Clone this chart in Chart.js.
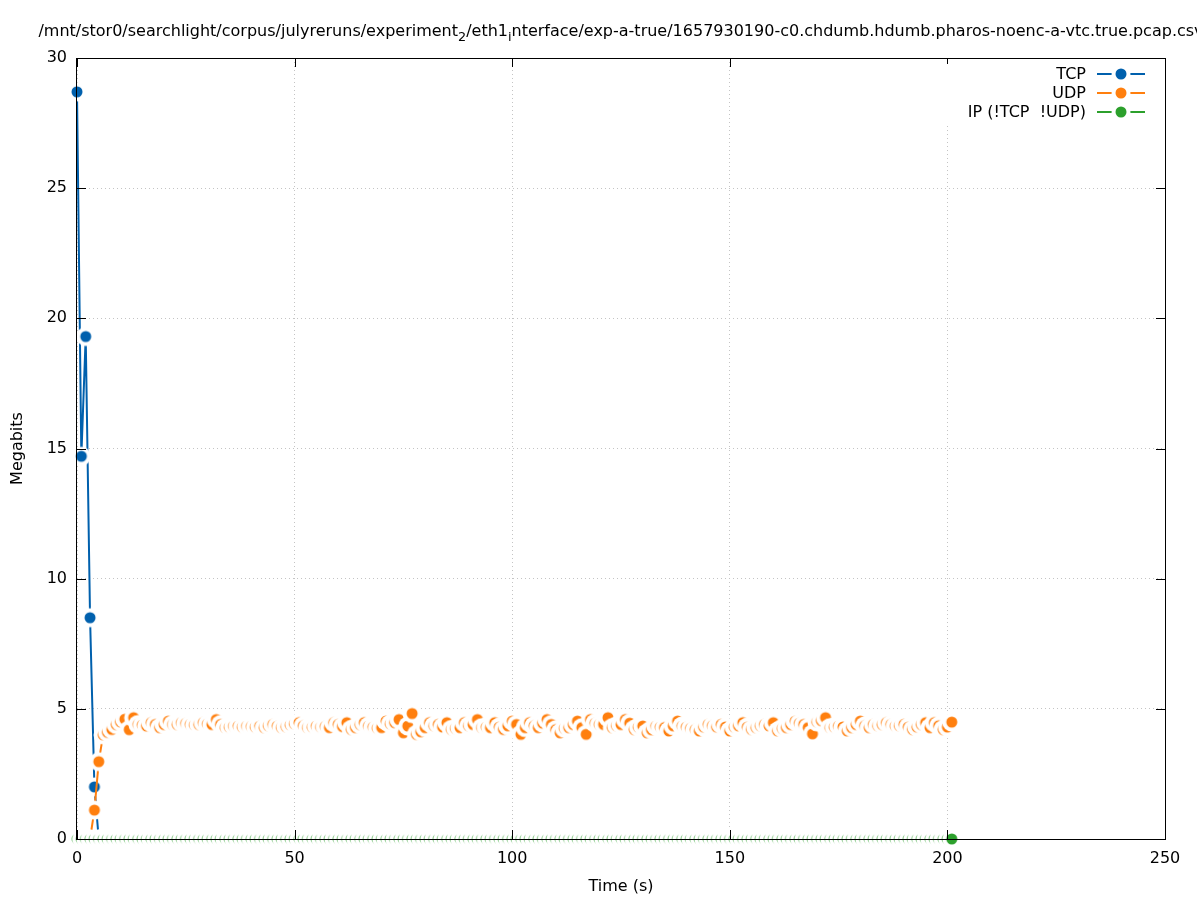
<!DOCTYPE html>
<html><head><meta charset="utf-8">
<script src="https://cdn.jsdelivr.net/npm/chart.js@4.4.0/dist/chart.umd.min.js"></script>
<style>html,body{margin:0;padding:0;background:#fff;}#wrap{width:1197px;height:900px;position:relative;}</style>
</head><body><div id="wrap"><canvas id="c" width="1197" height="900"></canvas></div>
<script>
// ---- text ----
const titleParts = [
  {text: '/mnt/stor0/searchlight/corpus/julyreruns/experiment', sub: false},
  {text: '2', sub: true},
  {text: '/eth1', sub: false},
  {text: 'i', sub: true},
  {text: 'nterface/exp-a-true/1657930190-c0.chdumb.hdumb.pharos-noenc-a-vtc.true.pcap.csv', sub: false}
];
const xAxisTitle = 'Time (s)';
const yAxisTitle = 'Megabits';
const seriesNames = ['TCP', 'UDP', 'IP (!TCP  !UDP)'];
const seriesColors = ['#0060ad', '#ff7f0e', '#2ca02c'];
const xTicks = [0, 50, 100, 150, 200, 250];
const yTicks = [0, 5, 10, 15, 20, 25, 30];

// ---- data (one sample per second) ----
const seconds = [
  0,1,2,3,4,5,6,7,8,9,10,11,12,13,14,15,16,17,18,19,
  20,21,22,23,24,25,26,27,28,29,30,31,32,33,34,35,36,37,38,39,
  40,41,42,43,44,45,46,47,48,49,50,51,52,53,54,55,56,57,58,59,
  60,61,62,63,64,65,66,67,68,69,70,71,72,73,74,75,76,77,78,79,
  80,81,82,83,84,85,86,87,88,89,90,91,92,93,94,95,96,97,98,99,
  100,101,102,103,104,105,106,107,108,109,110,111,112,113,114,115,116,117,118,119,
  120,121,122,123,124,125,126,127,128,129,130,131,132,133,134,135,136,137,138,139,
  140,141,142,143,144,145,146,147,148,149,150,151,152,153,154,155,156,157,158,159,
  160,161,162,163,164,165,166,167,168,169,170,171,172,173,174,175,176,177,178,179,
  180,181,182,183,184,185,186,187,188,189,190,191,192,193,194,195,196,197,198,199,
  200,201
];
const tcp = [
  28.7,14.7,19.3,8.5,2.0,
  0,0,0,0,0,0,0,0,0,0,0,0,0,0,0,0,0,0,0,0,
  0,0,0,0,0,0,0,0,0,0,0,0,0,0,0,0,0,0,0,0,
  0,0,0,0,0,0,0,0,0,0,0,0,0,0,0,0,0,0,0,0,
  0,0,0,0,0,0,0,0,0,0,0,0,0,0,0,0,0,0,0,0,
  0,0,0,0,0,0,0,0,0,0,0,0,0,0,0,0,0,0,0,0,
  0,0,0,0,0,0,0,0,0,0,0,0,0,0,0,0,0,0,0,0,
  0,0,0,0,0,0,0,0,0,0,0,0,0,0,0,0,0,0,0,0,
  0,0,0,0,0,0,0,0,0,0,0,0,0,0,0,0,0,0,0,0,
  0,0,0,0,0,0,0,0,0,0,0,0,0,0,0,0,0,0,0,0,
  0,0,0,0,0,0,0,0,0,0,0,0,0,0,0,0,0
];
const udp = [
  0,0,0,0,1.11,2.97,
  4.00,4.10,4.21,4.40,4.50,4.60,4.20,4.66,4.40,4.38,
  4.34,4.47,4.40,4.28,4.40,4.53,4.40,4.40,4.47,4.44,
  4.40,4.38,4.40,4.47,4.42,4.40,4.59,4.40,4.28,4.30,
  4.34,4.34,4.30,4.34,4.32,4.30,4.34,4.28,4.35,4.40,
  4.34,4.28,4.32,4.38,4.42,4.47,4.35,4.28,4.30,4.34,
  4.30,4.32,4.28,4.47,4.40,4.32,4.47,4.21,4.28,4.40,
  4.47,4.34,4.30,4.26,4.28,4.53,4.42,4.47,4.59,4.08,
  4.34,4.82,4.02,4.12,4.28,4.47,4.35,4.40,4.30,4.47,
  4.21,4.25,4.28,4.47,4.35,4.40,4.59,4.28,4.30,4.28,
  4.47,4.30,4.21,4.35,4.53,4.40,4.02,4.28,4.47,4.35,
  4.28,4.45,4.59,4.40,4.20,4.08,4.25,4.28,4.40,4.53,
  4.28,4.02,4.59,4.45,4.40,4.40,4.66,4.28,4.35,4.40,
  4.59,4.45,4.21,4.30,4.34,4.08,4.20,4.34,4.30,4.28,
  4.15,4.35,4.53,4.34,4.30,4.25,4.20,4.15,4.30,4.40,
  4.35,4.30,4.40,4.30,4.15,4.30,4.35,4.47,4.30,4.21,
  4.28,4.35,4.40,4.35,4.47,4.15,4.25,4.28,4.40,4.53,
  4.45,4.40,4.28,4.04,4.50,4.55,4.66,4.28,4.30,4.34,
  4.30,4.15,4.28,4.40,4.53,4.35,4.28,4.40,4.35,4.40,
  4.47,4.40,4.34,4.35,4.40,4.30,4.21,4.30,4.40,4.47,
  4.28,4.47,4.35,4.21,4.30,4.49
];
const ipOther = [
  0,0,0,0,0,0,0,0,0,0,0,0,0,0,0,0,0,0,0,0,
  0,0,0,0,0,0,0,0,0,0,0,0,0,0,0,0,0,0,0,0,
  0,0,0,0,0,0,0,0,0,0,0,0,0,0,0,0,0,0,0,0,
  0,0,0,0,0,0,0,0,0,0,0,0,0,0,0,0,0,0,0,0,
  0,0,0,0,0,0,0,0,0,0,0,0,0,0,0,0,0,0,0,0,
  0,0,0,0,0,0,0,0,0,0,0,0,0,0,0,0,0,0,0,0,
  0,0,0,0,0,0,0,0,0,0,0,0,0,0,0,0,0,0,0,0,
  0,0,0,0,0,0,0,0,0,0,0,0,0,0,0,0,0,0,0,0,
  0,0,0,0,0,0,0,0,0,0,0,0,0,0,0,0,0,0,0,0,
  0,0,0,0,0,0,0,0,0,0,0,0,0,0,0,0,0,0,0,0,
  0,0
];
const seriesValues = [tcp, udp, ipOther];

// ---- styling ----
const FONT = '"DejaVu Sans", sans-serif';
const DOT_R = 5.5, BLANK_R = 9.5;
function makeMarker(color) {
  const c = document.createElement('canvas');
  c.width = 22; c.height = 22;
  const g = c.getContext('2d');
  g.fillStyle = '#ffffff';
  g.beginPath(); g.arc(11, 11, BLANK_R, 0, Math.PI * 2); g.fill();
  g.fillStyle = color;
  g.beginPath(); g.arc(11, 11, DOT_R, 0, Math.PI * 2); g.fill();
  return c;
}
const markers = seriesColors.map(makeMarker);

const datasets = seriesNames.map((name, k) => ({
  label: name,
  data: seconds.map((t, i) => ({x: t, y: seriesValues[k][i]})),
  borderColor: seriesColors[k],
  backgroundColor: seriesColors[k],
  borderWidth: 2,
  pointStyle: markers[k],
  pointRadius: DOT_R,
  pointHoverRadius: DOT_R,
  tension: 0,
  clip: false,
  order: 3 - k
}));

const framePlugin = {
  id: 'gpFrame',
  afterDatasetsDraw(chart) {
    const ctx = chart.ctx, a = chart.chartArea;
    const xs = chart.scales.x, ys = chart.scales.y;
    ctx.save();
    ctx.strokeStyle = '#000'; ctx.lineWidth = 1;
    const TL = 9;
    ctx.beginPath();
    xTicks.forEach(v => {
      const px = Math.round(xs.getPixelForValue(v)) + 0.5;
      ctx.moveTo(px, a.bottom); ctx.lineTo(px, a.bottom - TL);
      ctx.moveTo(px, a.top); ctx.lineTo(px, a.top + TL);
    });
    yTicks.forEach(v => {
      const py = Math.round(ys.getPixelForValue(v)) + 0.5;
      ctx.moveTo(a.left, py); ctx.lineTo(a.left + TL, py);
      ctx.moveTo(a.right, py); ctx.lineTo(a.right - TL, py);
    });
    ctx.stroke();
    // legend (opaque key)
    ctx.fillStyle = '#fff';
    ctx.fillRect(938, 64, 224, 59);
    const rows = [74, 93, 112];
    ctx.font = '16px ' + FONT;
    ctx.textAlign = 'right'; ctx.textBaseline = 'middle';
    seriesNames.forEach((n, k) => {
      const y = rows[k];
      ctx.fillStyle = '#000';
      ctx.fillText(n, 1086, y + 1);
      ctx.strokeStyle = seriesColors[k]; ctx.lineWidth = 2;
      ctx.beginPath(); ctx.moveTo(1097, y); ctx.lineTo(1145, y); ctx.stroke();
      ctx.drawImage(markers[k], 1121 - 11, y - 11);
    });
    // border box
    ctx.strokeStyle = '#000'; ctx.lineWidth = 1;
    ctx.strokeRect(Math.round(a.left) - 0.5, Math.round(a.top) + 0.5, Math.round(a.right - a.left) + 1, Math.round(a.bottom - a.top));
    ctx.restore();
  },
  afterDraw(chart) {
    const ctx = chart.ctx, a = chart.chartArea;
    ctx.save();
    ctx.fillStyle = '#000';
    ctx.textBaseline = 'alphabetic'; ctx.textAlign = 'left';
    const big = '16px ' + FONT, small = '12.8px ' + FONT;
    let total = 0;
    titleParts.forEach(p => { ctx.font = p.sub ? small : big; total += ctx.measureText(p.text).width; });
    let x = (a.left + a.right) / 2 - total / 2;
    const base = 36;
    titleParts.forEach(p => {
      ctx.font = p.sub ? small : big;
      ctx.fillText(p.text, x, p.sub ? base + 5 : base);
      x += ctx.measureText(p.text).width;
    });
    ctx.restore();
  }
};

new Chart(document.getElementById('c'), {
  type: 'line',
  data: {datasets},
  options: {
    responsive: false,
    animation: false,
    events: [],
    layout: {padding: {top: 58, right: 32, left: 0, bottom: 0}},
    plugins: {legend: {display: false}, tooltip: {enabled: false}, title: {display: false}},
    scales: {
      x: {
        type: 'linear', min: 0, max: 250,
        afterBuildTicks: s => { s.ticks = xTicks.map(v => ({value: v})); },
        ticks: {color: '#000', font: {family: FONT, size: 16}, padding: 10, maxRotation: 0, autoSkip: false},
        grid: {color: '#c4c4c4', lineWidth: 1, drawTicks: false},
        border: {display: false, dash: [1, 3]},
        title: {display: true, text: xAxisTitle, color: '#000', font: {family: FONT, size: 16}, padding: {top: 0, bottom: 4}},
        afterFit: s => { s.height = 61; }
      },
      y: {
        type: 'linear', min: 0, max: 30,
        afterBuildTicks: s => { s.ticks = yTicks.map(v => ({value: v})); },
        ticks: {color: '#000', font: {family: FONT, size: 16}, padding: 10},
        grid: {color: '#c4c4c4', lineWidth: 1, drawTicks: false},
        border: {display: false, dash: [1, 3]},
        title: {display: true, text: yAxisTitle, color: '#000', font: {family: FONT, size: 16}, padding: {top: 8, bottom: 0}},
        afterFit: s => { s.width = 77; }
      }
    }
  },
  plugins: [framePlugin]
});
</script></body></html>
